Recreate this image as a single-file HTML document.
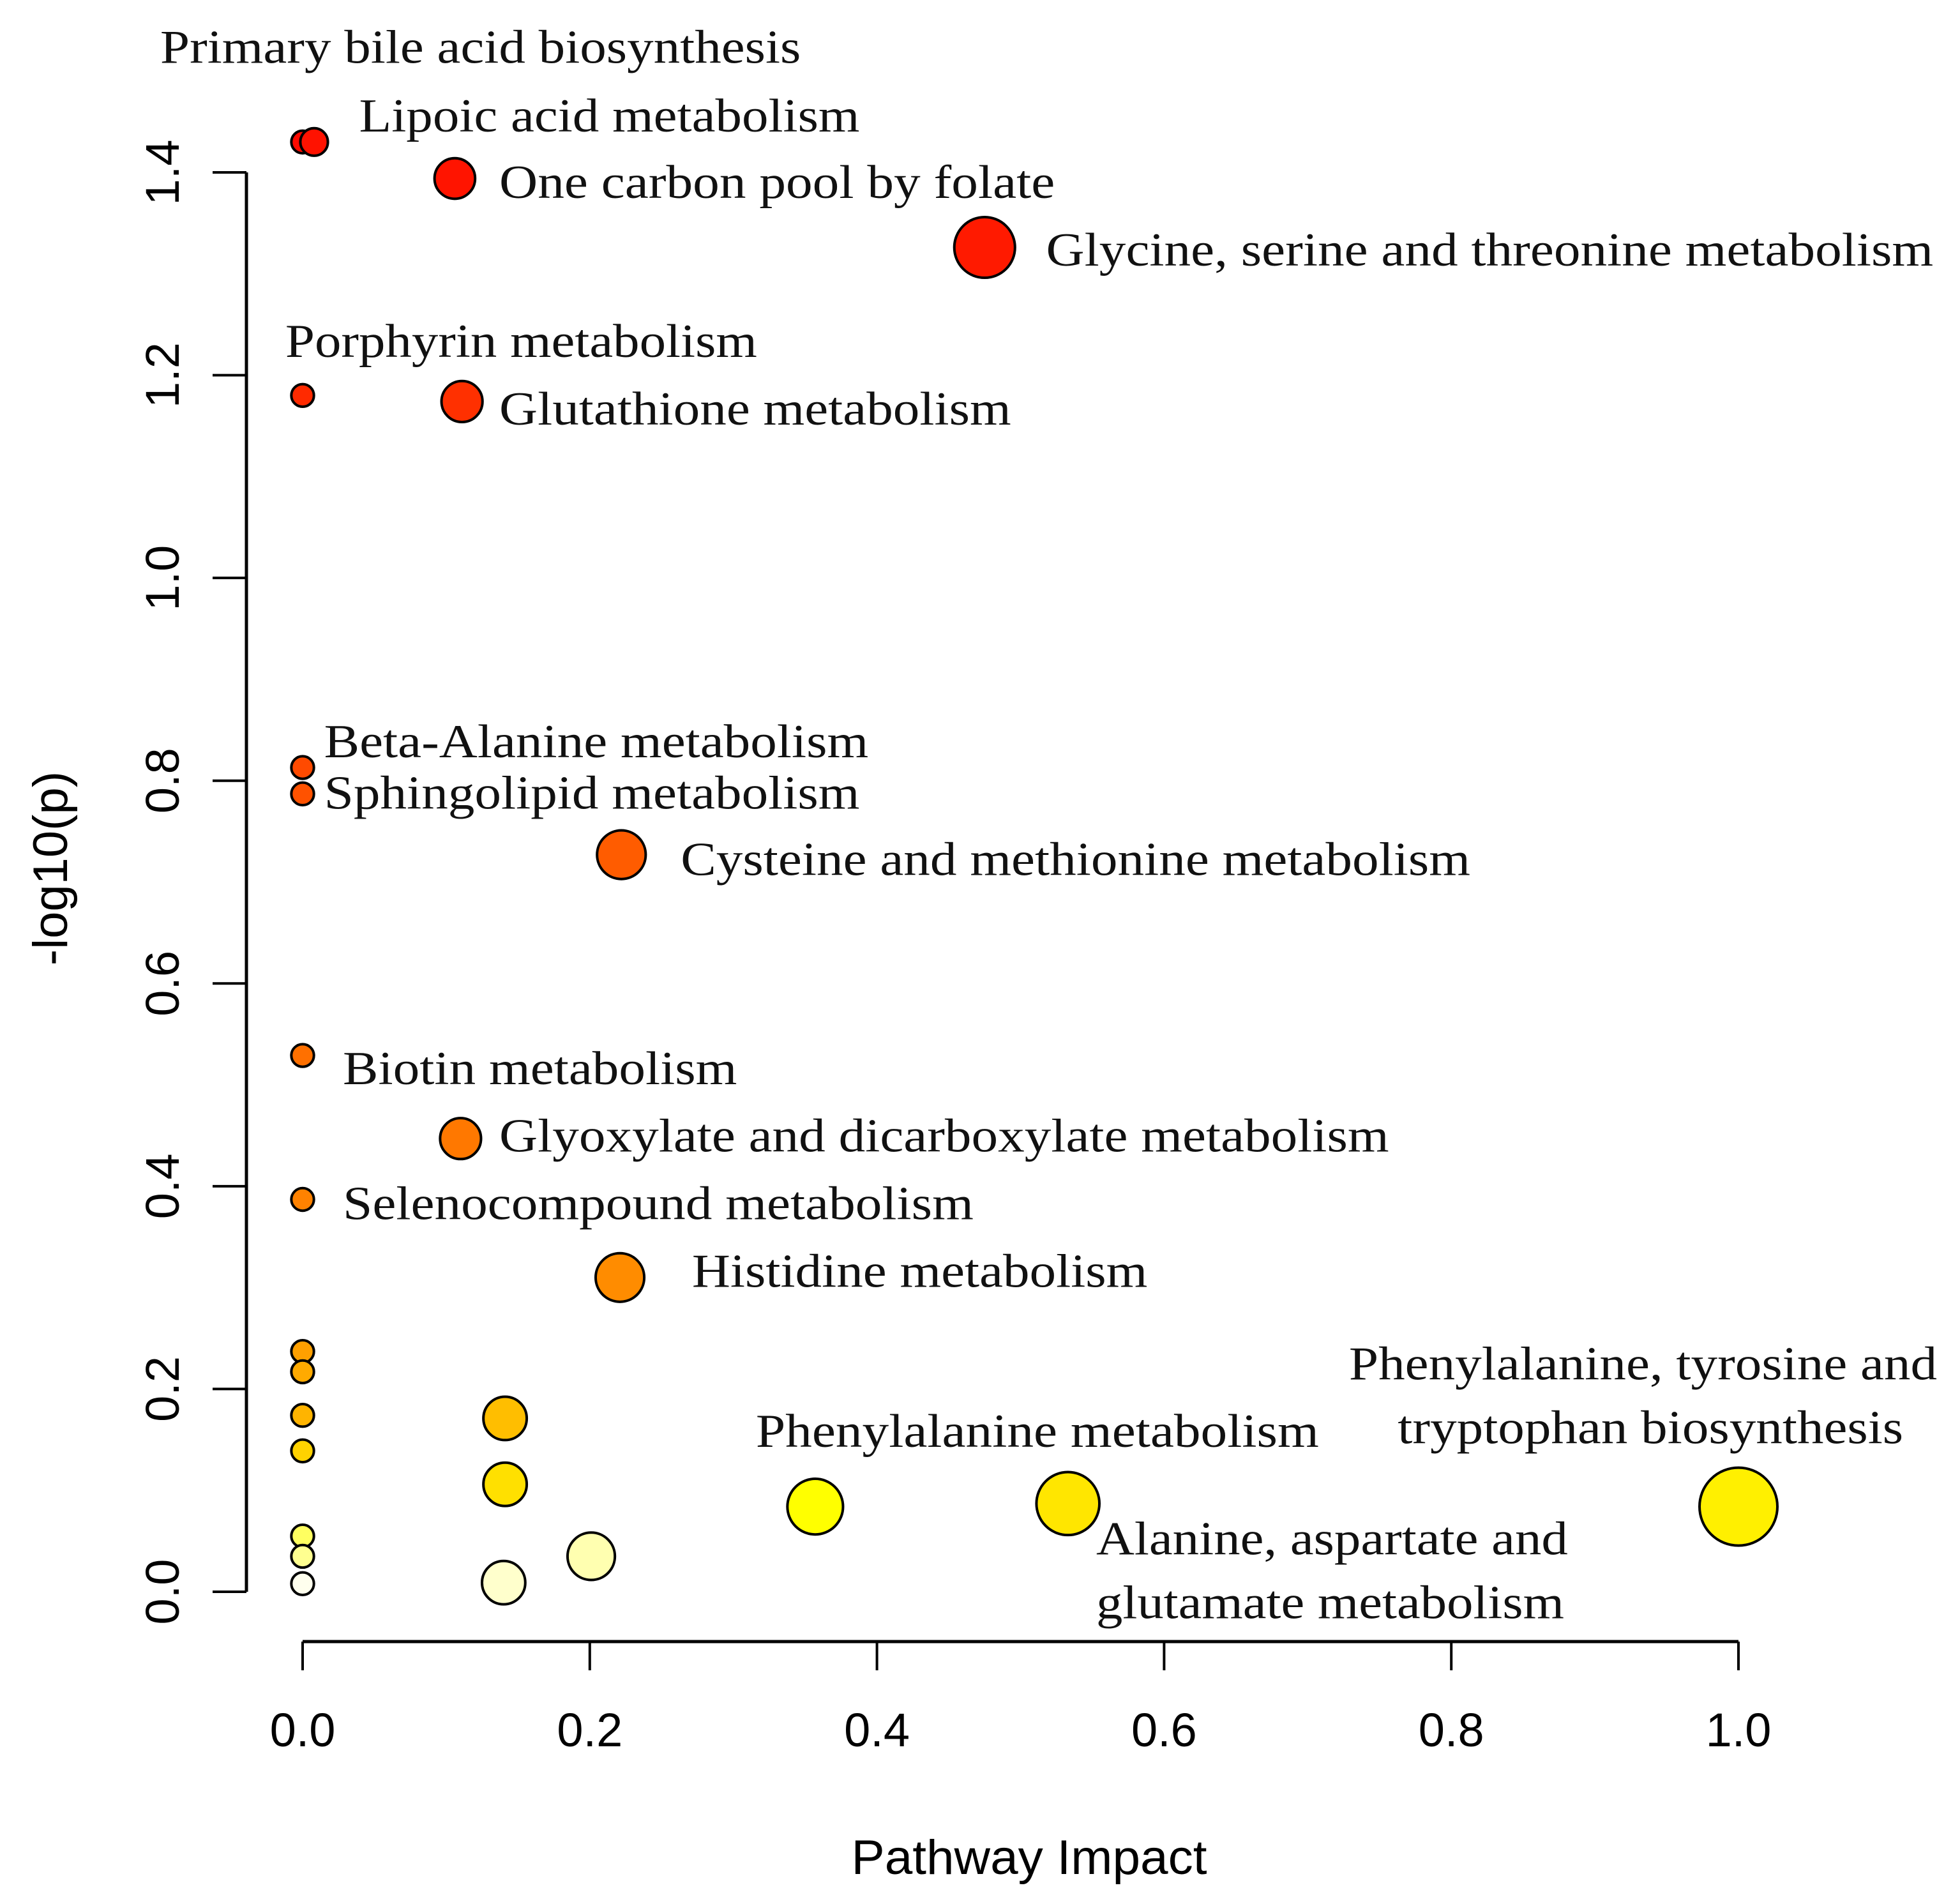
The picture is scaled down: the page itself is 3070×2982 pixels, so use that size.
<!DOCTYPE html>
<html><head><meta charset="utf-8"><style>
html,body{margin:0;padding:0;background:#fff;}
svg{display:block;}
</style></head><body>
<svg id="chart" width="3070" height="2982" viewBox="0 0 3070 2982" xmlns="http://www.w3.org/2000/svg">
<g id="axes"></g>
<g id="points"></g>
<g id="labels"></g>
</svg>
<script>
const impact = [0, 0.008, 0.106, 0.475, 0, 0.111, 0, 0, 0.222, 0, 0.110, 0, 0.221, 0, 0, 0, 0, 0, 0, 0, 0.141, 0.141, 0.140, 0.201, 0.357, 0.533, 1.0];
const logp = [1.43, 1.43, 1.394, 1.326, 1.18, 1.174, 0.813, 0.787, 0.727, 0.529, 0.447, 0.387, 0.310, 0.237, 0.217, 0.174, 0.139, 0.055, 0.035, 0.008, 0.171, 0.106, 0.009, 0.035, 0.084, 0.087, 0.084];
const fills = ["#ff0a00","#ff1200","#ff1400","#ff1a00","#ff2a00","#ff3000","#ff4a00","#ff5200","#ff5c00","#ff7000","#ff7800","#ff8200","#ff8c00","#ffa000","#ffaa00","#ffb400","#ffd200","#ffff60","#ffff90","#ffffee","#ffbe00","#ffe000","#ffffcc","#ffffb0","#ffff00","#ffe600","#fff000"];
const xTicks = [0, 0.2, 0.4, 0.6, 0.8, 1.0];
const xTickLabels = ["0.0","0.2","0.4","0.6","0.8","1.0"];
const yTicks = [0, 0.2, 0.4, 0.6, 0.8, 1.0, 1.2, 1.4];
const yTickLabels = ["0.0","0.2","0.4","0.6","0.8","1.0","1.2","1.4"];
const labelTexts = ["Primary bile acid biosynthesis","Lipoic acid metabolism","One carbon pool by folate","Glycine, serine and threonine metabolism","Porphyrin metabolism","Glutathione metabolism","Beta-Alanine metabolism","Sphingolipid metabolism","Cysteine and methionine metabolism","Biotin metabolism","Glyoxylate and dicarboxylate metabolism","Selenocompound metabolism","Histidine metabolism","Phenylalanine metabolism","Phenylalanine, tyrosine and","tryptophan biosynthesis","Alanine, aspartate and","glutamate metabolism"];
// label layout (display coords, style only)
const labelBox = [[128,40,640],[287,95,687],[399,148,843],[836,202,1545],[228,275,605],[399,329,808],[259,595,694],[259,636,687],[544,689,1175],[274,856,589],[399,910,1110],[274,964,778],[553,1018,917],[604,1146,1054],[1078,1092,1548],[1117,1143,1521],[876,1232,1253],[876,1283,1250]];

const NS="http://www.w3.org/2000/svg";
const X0=474, X1=2723, Y0=2493, Y14=270;
const sx=v=>X0+(X1-X0)*v;
const sy=v=>Y0-(Y0-Y14)/1.4*v;
function mk(tag,attrs,parent){const e=document.createElementNS(NS,tag);for(const k in attrs)e.setAttribute(k,attrs[k]);parent.appendChild(e);return e;}
const axes=document.getElementById('axes');
const sans='"Liberation Sans", Arial, sans-serif';
const serif='"Liberation Serif", "Times New Roman", serif';

let xl=mk('line',{x1:X0,x2:X1,y1:2571,y2:2571,stroke:'#000','stroke-width':5},axes);


xTicks.forEach((t,i)=>{
  const l=mk('line',{x1:sx(t),x2:sx(t),y1:2571,y2:2616,stroke:'#000','stroke-width':4},axes);
  
  
  const tx=mk('text',{x:sx(t),y:2735,'text-anchor':'middle','font-family':sans,'font-size':74,fill:'#000'},axes);
  
  
  tx.textContent=xTickLabels[i];
});
let yl=mk('line',{x1:386,x2:386,y1:sy(0),y2:sy(1.4),stroke:'#000','stroke-width':5},axes);


yTicks.forEach((t,i)=>{
  const y=sy(t);
  const l=mk('line',{x1:333,x2:386,y1:y,y2:y,stroke:'#000','stroke-width':4},axes);
  
  
  const tx=mk('text',{x:0,y:0,transform:`translate(280,${y}) rotate(-90)`,'text-anchor':'middle','font-family':sans,'font-size':74,fill:'#000'},axes);
  
  
  tx.textContent=yTickLabels[i];
});
let xt=mk('text',{x:1612,y:2935,'text-anchor':'middle','font-family':sans,'font-size':76,fill:'#000',textLength:557,lengthAdjust:'spacingAndGlyphs'},axes);


xt.textContent='Pathway Impact';
let yt=mk('text',{x:0,y:0,transform:'translate(105,1360) rotate(-90)','text-anchor':'middle','font-family':sans,'font-size':76,fill:'#000'},axes);


yt.textContent='-log10(p)';

const pts=document.getElementById('points');
impact.forEach((v,i)=>{
  const r=17.7+43.3*Math.sqrt(v);
  const c=mk('circle',{cx:sx(v),cy:sy(logp[i]),r:r,fill:fills[i],stroke:'#000','stroke-width':4},pts);
  
  
});

const lab=document.getElementById('labels');
const S=1.96;
labelTexts.forEach((t,i)=>{
  const b=labelBox[i];
  const tx=mk('text',{x:b[0]*S,y:b[1]*S-4,'dominant-baseline':'central','font-family':serif,'font-size':74,fill:'#111',textLength:(b[2]-b[0])*S,lengthAdjust:'spacingAndGlyphs'},lab);
  
  
  tx.textContent=t;
});
</script>
</body></html>
